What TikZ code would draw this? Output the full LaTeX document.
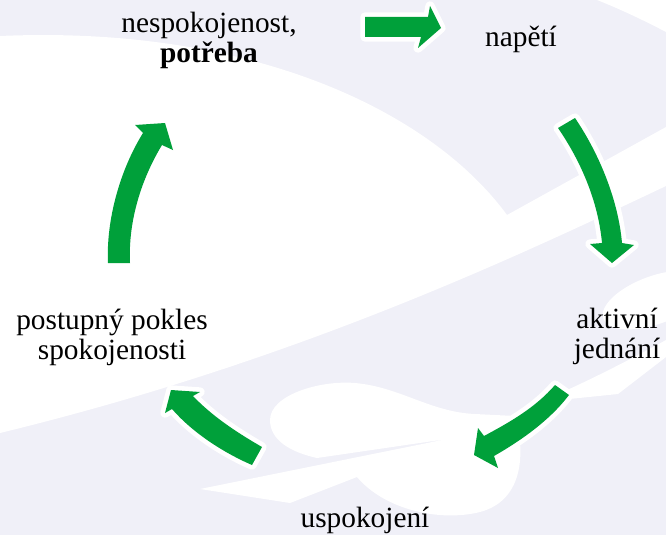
\documentclass[tikz,border=0pt]{standalone}
\usepackage{fontspec}
\setmainfont{Liberation Serif}

\begin{document}
\begin{tikzpicture}[x=0.75pt, y=-0.75pt,
  cyclearrow/.style={fill=cyclegreen, preaction={draw=white, line width=7pt, line join=round}},
  cyclelabel/.style={anchor=base, align=center, inner sep=0pt, font=\fontsize{22}{22.5}\selectfont}]
  \definecolor{lavender}{RGB}{240,240,248}
  \definecolor{cyclegreen}{RGB}{0,160,58}
  \useasboundingbox (0,0) rectangle (666,535);
  \fill [lavender] (0,0) rectangle (666,535);
  \fill [white] (0,36) .. controls (250,25) and (430,110) .. (507,215) -- (666,127) -- (666,186) .. controls (520,255) and (300,360) .. (0,433) -- cycle;
  \fill [white] (597,0) .. controls (620,9) and (645,21) .. (666,32) -- (666,0) -- cycle;
  \fill [white] (200,489) -- (447,439) -- (317,458) .. controls (290,452) and (270,440) .. (270,420) .. controls (270,395) and (320,380) .. (355,383) .. controls (400,387) and (430,412) .. (475,414) -- (515,416) .. controls (525,450) and (525,500) .. (480,512) .. controls (440,522) and (385,510) .. (357,477) -- (290,503) -- cycle;
  \fill [white, rotate around={20:(655,300)}] (655,300) ellipse [x radius=55, y radius=24];
  \fill [white] (540,402) -- (618,394) -- (666,357) -- (666,340) .. controls (620,365) and (580,385) .. (540,402) -- cycle;

  \node [cyclelabel] (need) at (209,63) {nespokojenost,\\\textbf{potřeba}};
  \node [cyclelabel] (tension) at (521,47) {napětí};
  \node [cyclelabel] (action) at (617,358) {aktivní\\jednání};
  \node [cyclelabel] (relief) at (365,527) {uspokojení};
  \node [cyclelabel] (decline) at (112,359) {postupný pokles\\spokojenosti};

  \fill [cyclearrow] (365,17) -- (428,17) -- (430,6) -- (441,28) -- (418,48) -- (421,37) -- (365,37) -- cycle;
  \fill [cyclearrow] (558,128) .. controls (580,160) and (598,200) .. (602,243) -- (590,244) -- (612,263) -- (634,245) -- (622,243) .. controls (618,198) and (598,152) .. (575,118) -- cycle;
  \fill [cyclearrow] (555,385) .. controls (535,408) and (510,422) .. (484,436) -- (478,428) -- (474,455) -- (498,468) -- (494,456) .. controls (522,440) and (550,420) .. (569,395) -- cycle;
  \fill [cyclearrow] (262,447) .. controls (236,432) and (212,416) .. (193,396) -- (200,392) -- (171,390) -- (165,413) -- (172,409) .. controls (192,432) and (222,452) .. (252,465) -- cycle;
  \fill [cyclearrow] (108,263) .. controls (106,220) and (120,170) .. (143,133) -- (135,125) -- (165,123) -- (173,150) -- (162,145) .. controls (142,178) and (128,220) .. (130,263) -- cycle;
\end{tikzpicture}
\end{document}
